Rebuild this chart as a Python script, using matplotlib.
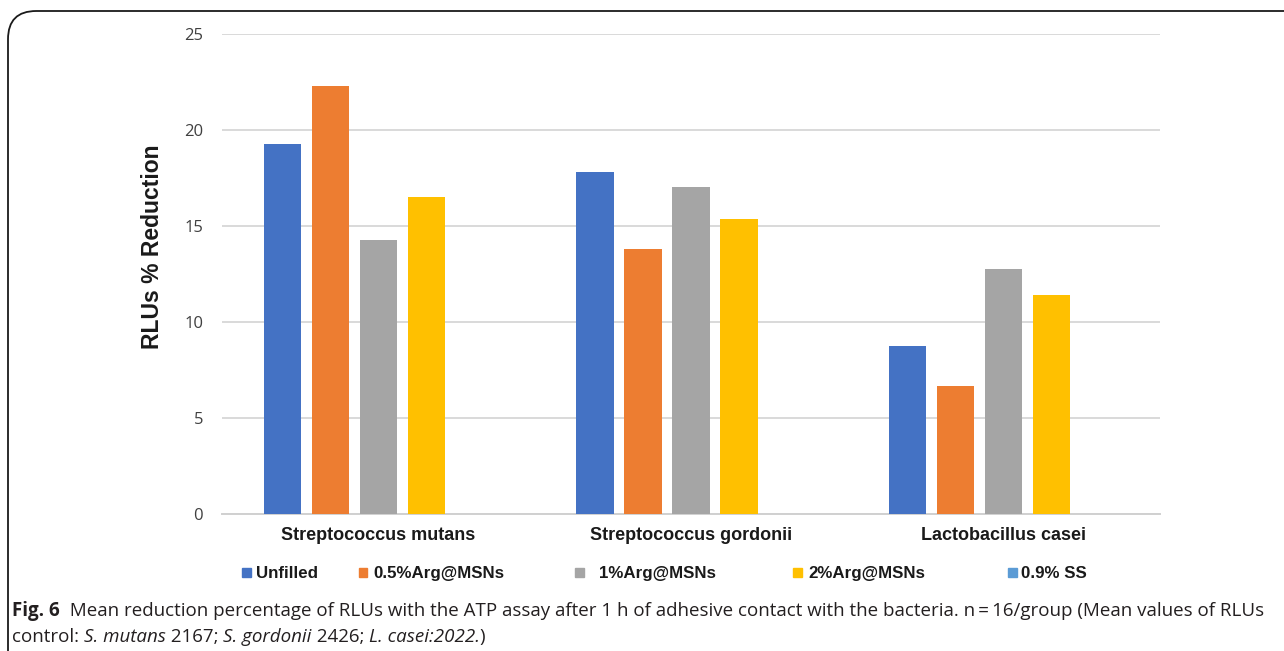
import matplotlib
matplotlib.use("Agg")
import matplotlib.pyplot as plt
from matplotlib import font_manager
from matplotlib.patches import FancyBboxPatch, Rectangle
import numpy as np

categories = ["Streptococcus mutans", "Streptococcus gordonii", "Lactobacillus casei"]
series = ["Unfilled", "0.5%Arg@MSNs", "1%Arg@MSNs", "2%Arg@MSNs", "0.9% SS"]
unfilled = [19.25, 17.80, 8.73]
arg_05 = [22.31, 13.82, 6.67]
arg_1 = [14.27, 17.05, 12.78]
arg_2 = [16.51, 15.35, 11.39]
saline = [0.0, 0.0, 0.0]
colors = ["#4472C4", "#ED7D31", "#A5A5A5", "#FFC000", "#5B9BD5"]
yticks = [0, 5, 10, 15, 20, 25]

W, H = 1284, 651
fig = plt.figure(figsize=(W / 100, H / 100), dpi=100)
fig.patch.set_facecolor("white")

# rounded frame around the figure and caption
frame = FancyBboxPatch((8 / W, -0.2), 1.3, (H - 11) / H + 0.2,
                       boxstyle="round,pad=0,rounding_size=0.022",
                       transform=fig.transFigure, fill=False,
                       edgecolor="#1a1a1a", linewidth=1.3,
                       mutation_aspect=W / H)
fig.patches.append(frame)

ax = fig.add_axes([222 / W, 1 - 514 / H, (1160 - 222) / W, (514 - 34) / H])
x = np.arange(len(categories))
step = 0.1535
width = 0.12
values = [unfilled, arg_05, arg_1, arg_2, saline]
for i, (vals, c) in enumerate(zip(values, colors)):
    ax.bar(x + (i - 2) * step, vals, width=width, color=c, zorder=3)

ax.set_xlim(-0.5, 2.5)
ax.set_ylim(0, 25)
ax.set_yticks(yticks)
ax.set_yticklabels([str(t) for t in yticks], fontfamily="Open Sans",
                   fontsize=12, color="#404040")
ax.grid(axis="y", color="#D9D9D9", linewidth=1.4, zorder=0)
ax.tick_params(axis="y", length=0, pad=13.5)
ax.set_xticks(x)
ax.set_xticklabels(categories, fontfamily="Liberation Sans", fontweight="bold",
                   fontsize=13, color="#1a1a1a")
ax.tick_params(axis="x", length=0, pad=9)
for s in ["top", "right", "left"]:
    ax.spines[s].set_visible(False)
ax.spines["bottom"].set_color("#D0D0D0")
ax.spines["bottom"].set_linewidth(1.4)
ax.set_ylabel("RLUs % Reduction", fontfamily="Liberation Sans", fontweight="bold",
              fontsize=16.5, color="#1a1a1a")
ax.yaxis.set_label_coords((164 - 222) / 938, (514 - 247) / 480)

fig.canvas.draw()
renderer = fig.canvas.get_renderer()

# legend row: a narrow face when one is installed
installed = {f.name for f in font_manager.fontManager.ttflist}
narrow = "Liberation Sans Narrow" in installed
leg_family = "Liberation Sans Narrow" if narrow else "Liberation Sans"
if narrow:
    probe = fig.text(0, 0, series[1], fontfamily=leg_family, fontweight="bold",
                     fontsize=12)
    leg_size = 12 * 103 / probe.get_window_extent(renderer).width
    probe.remove()
else:
    leg_size = 12.2

leg_marker_x = [246, 363, 579, 797, 1012]
leg_text_gap = [10, 10, 20, 11, 9]
leg_base = 1 - 578 / H
for name, c, mx, gap in zip(series, colors, leg_marker_x, leg_text_gap):
    fig.patches.append(Rectangle(((mx - 4.5) / W, 1 - 577 / H), 9 / W, 9 / H,
                                 transform=fig.transFigure, color=c))
    fig.text((mx + gap) / W, leg_base, name, fontfamily=leg_family,
             fontweight="bold", fontsize=leg_size, color="#1a1a1a",
             va="baseline")


def draw_runs(runs, x0, y, size):
    xpos = x0
    made = []
    for txt, style, weight in runs:
        t = fig.text(xpos / W, y, txt, fontfamily="Open Sans", fontsize=size,
                     fontstyle=style, fontweight=weight, color="#231F20",
                     va="baseline")
        bb = t.get_window_extent(renderer)
        xpos += bb.width
        made.append(t)
    return xpos, made


line1 = [("Fig. 6", "normal", "bold"),
         ("  Mean reduction percentage of RLUs with the ATP assay after 1 h of adhesive "
          "contact with the bacteria. n\u2009=\u200916/group (Mean values of RLUs",
          "normal", "normal")]
line2 = [("control: ", "normal", "normal"), ("S. mutans", "italic", "normal"),
         (" 2167; ", "normal", "normal"), ("S. gordonii", "italic", "normal"),
         (" 2426; ", "normal", "normal"), ("L. casei:2022.", "italic", "normal"),
         (")", "normal", "normal")]

# size the caption so that the first line spans the frame width
base = 10.0
end, made = draw_runs(line1, 12, 1 - 616 / H, base)
for t in made:
    t.remove()
cap_size = base * (1268 - 12) / (end - 12)
draw_runs(line1, 12, 1 - 616 / H, cap_size)
draw_runs(line2, 12, 1 - 642 / H, cap_size)

fig.savefig("out.png", dpi=100, facecolor="white")
